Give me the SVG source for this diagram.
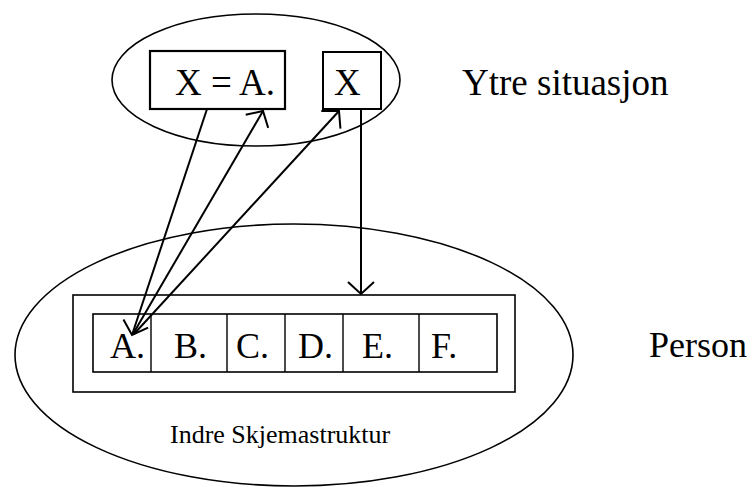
<svg xmlns="http://www.w3.org/2000/svg" width="754" height="487" viewBox="0 0 754 487">
<style>
  .shape { fill: none; stroke: #000; }
  .t { font-family: "Liberation Serif", "Times New Roman", serif; fill: #000; }
  .big { font-size: 37px; }
  .cell { font-size: 36px; }
  .small { font-size: 26px; }
  .conn { fill: none; stroke: #000; stroke-width: 2; }
</style>
<defs>
  <marker id="arr" viewBox="-20 -20 40 40" refX="0" refY="0" markerWidth="40" markerHeight="40" markerUnits="userSpaceOnUse" orient="auto" overflow="visible">
    <path d="M-12,-13 L0,0 L-12,13" fill="none" stroke="#000" stroke-width="2"/>
  </marker>
</defs>
<rect width="754" height="487" fill="#fff"/>

<g id="ytre-situasjon">
  <ellipse class="shape" stroke-width="1.6" cx="256" cy="80" rx="144" ry="66"/>
  <text class="t big" x="462" y="95">Ytre situasjon</text>
</g>
<g id="box-x-eq-a">
  <rect class="shape" stroke-width="2.2" x="150" y="51" width="135" height="58"/>
  <text class="t big" x="175" y="95">X = A.</text>
</g>
<g id="box-x">
  <rect class="shape" stroke-width="2" x="323" y="52" width="58" height="57"/>
  <text class="t big" x="334" y="95">X</text>
</g>

<g id="person">
  <ellipse class="shape" stroke-width="1.6" cx="294" cy="355" rx="279" ry="131"/>
  <text class="t cell" x="649" y="357">Person</text>
  <text class="t small" x="170" y="443">Indre Skjemastruktur</text>
</g>
<g id="skjema">
  <rect class="shape" stroke-width="1.6" x="73" y="295" width="442" height="97"/>
  <rect class="shape" stroke-width="1.6" x="93" y="314" width="404" height="58"/>
  <path class="shape" stroke-width="1.4" d="M151,314 V372 M227,314 V372 M285,314 V372 M343,314 V372 M419,314 V372"/>
</g>
<g id="cell-a"><text class="t cell" x="110" y="358">A.</text></g>
<g id="cell-b"><text class="t cell" x="174" y="358">B.</text></g>
<g id="cell-c"><text class="t cell" x="236" y="358">C.</text></g>
<g id="cell-d"><text class="t cell" x="298" y="358">D.</text></g>
<g id="cell-e"><text class="t cell" x="362" y="358">E.</text></g>
<g id="cell-f"><text class="t cell" x="431" y="358">F.</text></g>

<g id="connectors">
  <line class="conn" x1="207" y1="109" x2="132" y2="335" marker-end="url(#arr)"/>
  <line class="conn" x1="133" y1="334" x2="263" y2="111" marker-end="url(#arr)"/>
  <line class="conn" x1="134" y1="334" x2="339" y2="111" marker-end="url(#arr)"/>
  <line class="conn" x1="361" y1="109" x2="361" y2="294" marker-end="url(#arr)"/>
</g>
</svg>
